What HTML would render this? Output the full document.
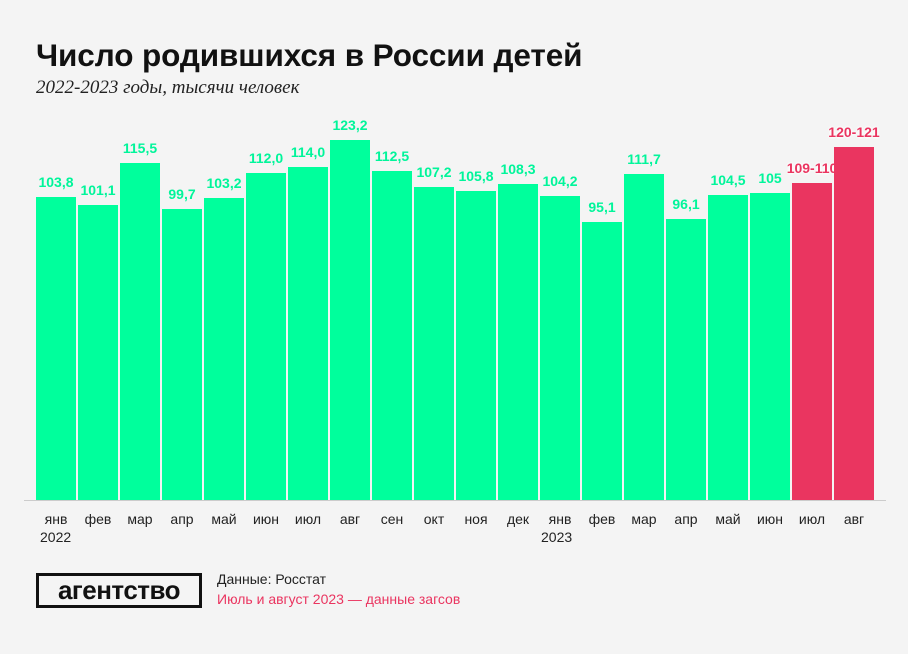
<!DOCTYPE html>
<html><head><meta charset="utf-8"><style>
body{margin:0;background:#f4f4f4;width:908px;height:654px;overflow:hidden;font-family:"Liberation Sans","DejaVu Sans",sans-serif;position:relative}
.t{position:absolute;left:36px;top:37px;font-size:31.5px;font-weight:bold;color:#111;letter-spacing:-0.1px}
.s{position:absolute;left:36px;top:77px;font-family:"Liberation Serif",serif;font-style:italic;font-size:19px;color:#222}
.b{position:absolute;width:40px;background:#00ff9c}
.r{background:#ea3560}
.v{position:absolute;width:60px;text-align:center;font-size:14px;font-weight:bold;color:#00f59a}
.vr{color:#ea3560;text-shadow:0 0 3px #fff,0 0 3px #fff,0 0 3px #fff}
.m{position:absolute;width:50px;text-align:center;font-size:14px;color:#222;top:511px}
.y{position:absolute;font-size:14px;color:#222;top:529px}
.logo{position:absolute;left:36px;top:573px;width:160px;height:29px;border:3px solid #111;font-weight:bold;font-size:26px;line-height:28px;text-align:center;color:#111;letter-spacing:-0.5px}
</style></head><body>
<div class="t">Число родившихся в России детей</div>
<div class="s">2022-2023 годы, тысячи человек</div>
<div style="position:absolute;left:24px;top:500px;width:862px;height:1px;background:#ccc"></div>
<div id="c"></div>
<div class="y" style="left:40px">2022</div>
<div class="y" style="left:541px">2023</div>
<div class="logo">агентство</div>
<div style="position:absolute;left:217px;top:571px;font-size:14px;color:#222">Данные: Росстат</div>
<div style="position:absolute;left:217px;top:591px;font-size:14px;color:#ea3560">Июль и август 2023 — данные загсов</div>
<script>
var d=[[103.8,"103,8"],[101.1,"101,1"],[115.5,"115,5"],[99.7,"99,7"],[103.2,"103,2"],[112,"112,0"],[114,"114,0"],[123.2,"123,2"],[112.5,"112,5"],[107.2,"107,2"],[105.8,"105,8"],[108.3,"108,3"],[104.2,"104,2"],[95.1,"95,1"],[111.7,"111,7"],[96.1,"96,1"],[104.5,"104,5"],[105,"105"],[108.5,"109-110"],[120.8,"120-121"]];
var m=["янв","фев","мар","апр","май","июн","июл","авг","сен","окт","ноя","дек","янв","фев","мар","апр","май","июн","июл","авг"];
var h="";
d.forEach(function(e,i){var x=36+i*42,H=Math.round(e[0]*2.922),top=500-H,red=i>=18;
h+='<div class="b'+(red?' r':'')+'" style="left:'+x+'px;top:'+top+'px;height:'+H+'px"></div>';
h+='<div class="v'+(red?' vr':'')+'" style="left:'+(x-10)+'px;top:'+(top-23)+'px">'+e[1]+'</div>';
h+='<div class="m" style="left:'+(x-5)+'px">'+m[i]+'</div>';});
document.getElementById("c").innerHTML=h;
</script>
</body></html>
